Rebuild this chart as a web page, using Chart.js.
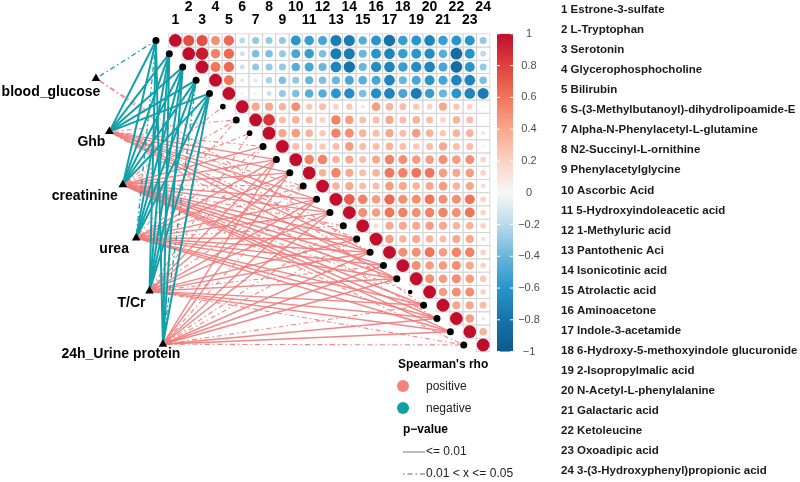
<!DOCTYPE html>
<html>
<head>
<meta charset="utf-8">
<script src="https://cdn.jsdelivr.net/npm/chart.js@4.4.1/dist/chart.umd.min.js"></script>
<style>
  html, body { margin: 0; padding: 0; background: #fff; }
  #chart { display: block; }
</style>
</head>
<body>
<canvas id="chart" width="800" height="482"></canvas>
<script>
// metabolites, in matrix order
const metabolites = [
  'Estrone-3-sulfate', 'L-Tryptophan', 'Serotonin', 'Glycerophosphocholine', 'Bilirubin',
  'S-(3-Methylbutanoyl)-dihydrolipoamide-E', 'Alpha-N-Phenylacetyl-L-glutamine',
  'N2-Succinyl-L-ornithine', 'Phenylacetylglycine', 'Ascorbic Acid',
  '5-Hydroxyindoleacetic acid', '1-Methyluric acid', 'Pantothenic Aci', 'Isonicotinic acid',
  'Atrolactic acid', 'Aminoacetone', 'Indole-3-acetamide',
  '6-Hydroxy-5-methoxyindole glucuronide', '2-Isopropylmalic acid',
  'N-Acetyl-L-phenylalanine', 'Galactaric acid', 'Ketoleucine', 'Oxoadipic acid',
  '3-(3-Hydroxyphenyl)propionic acid'
]

const clinical = ['blood_glucose', 'Ghb', 'creatinine', 'urea', 'T/Cr', '24h_Urine protein']

// spearman rho, upper triangle: row i holds columns i..24
const rho = [
  [1, 0.75, 0.75, 0.5, 0.65, -0.2, -0.3, -0.3, -0.3, -0.6, -0.55, -0.5, -0.75, -0.75, -0.45, -0.6, -0.8, -0.55, -0.6, -0.7, -0.55, -0.6, -0.6, -0.3],
  [1, 0.95, 0.55, 0.65, -0.15, -0.35, -0.35, -0.3, -0.5, -0.55, -0.35, -0.75, -0.75, -0.4, -0.6, -0.7, -0.55, -0.6, -0.65, -0.45, -0.85, -0.6, -0.2],
  [1, 0.6, 0.65, -0.15, -0.3, -0.3, -0.3, -0.45, -0.5, -0.4, -0.7, -0.8, -0.4, -0.65, -0.7, -0.55, -0.65, -0.7, -0.5, -0.85, -0.6, -0.3],
  [1, 0.6, -0.1, -0.1, -0.25, -0.35, -0.3, -0.4, -0.35, -0.4, -0.5, -0.45, -0.5, -0.7, -0.4, -0.5, -0.6, -0.5, -0.7, -0.7, -0.35],
  [1, -0.05, -0.05, -0.15, -0.3, -0.35, -0.45, -0.45, -0.6, -0.65, -0.35, -0.65, -0.7, -0.5, -0.75, -0.55, -0.4, -0.6, -0.7, -0.75],
  [1, 0.4, 0.4, 0.35, 0.5, 0.25, 0.3, 0.2, 0.25, 0.1, 0.45, 0.35, 0.3, 0.25, 0.2, 0.4, 0.25, 0.2, 0.05],
  [1, 0.85, 0.3, 0.35, 0.3, 0.2, 0.55, 0.45, 0.3, 0.3, 0.4, 0.3, 0.35, 0.3, 0.2, 0.35, 0.3, 0.02],
  [1, 0.4, 0.45, 0.35, 0.25, 0.55, 0.5, 0.35, 0.3, 0.4, 0.3, 0.45, 0.35, 0.25, 0.35, 0.35, 0.1],
  [1, 0.3, 0.3, 0.25, 0.3, 0.45, 0.3, 0.3, 0.35, 0.3, 0.25, 0.3, 0.4, 0.3, 0.3, 0.05],
  [1, 0.55, 0.55, 0.35, 0.4, 0.3, 0.4, 0.55, 0.5, 0.45, 0.45, 0.5, 0.45, 0.5, 0.2],
  [1, 0.35, 0.55, 0.4, 0.3, 0.35, 0.6, 0.55, 0.6, 0.6, 0.45, 0.4, 0.45, 0.2],
  [1, 0.35, 0.4, 0.3, 0.3, 0.45, 0.4, 0.35, 0.4, 0.45, 0.35, 0.4, 0.15],
  [1, 0.7, 0.55, 0.45, 0.65, 0.5, 0.5, 0.6, 0.5, 0.5, 0.6, 0.2],
  [1, 0.5, 0.45, 0.6, 0.55, 0.5, 0.55, 0.55, 0.5, 0.6, 0.2],
  [1, 0.15, 0.4, 0.4, 0.4, 0.45, 0.4, 0.35, 0.35, 0.2],
  [1, 0.45, 0.35, 0.4, 0.35, 0.3, 0.4, 0.4, 0.12],
  [1, 0.5, 0.5, 0.6, 0.45, 0.55, 0.55, 0.2],
  [1, 0.5, 0.45, 0.45, 0.5, 0.4, 0.2],
  [1, 0.5, 0.45, 0.5, 0.45, 0.25],
  [1, 0.45, 0.5, 0.5, 0.2],
  [1, 0.4, 0.4, 0.3],
  [1, 0.45, 0.1],
  [1, 0.35],
  [1]
]

// links clinical -> metabolite (one list per clinical variable)
// negative rho, p <= 0.01
const negStrong = [[], [1, 2, 3, 4, 5], [1, 2, 3, 4, 5], [2, 3, 4, 5], [1, 2, 3, 4, 5], [1, 2, 3, 5]]
// negative rho, 0.01 < p <= 0.05
const negWeak = [[1], [], [], [1], [], [4]]
// positive rho, p <= 0.01
const posStrong = [
  [],
  [10, 11, 13, 14, 17, 19],
  [9, 10, 11, 13, 14, 16, 17, 18, 19, 21, 22, 23],
  [10, 11, 13, 14, 16, 17, 18, 19, 21, 22, 23],
  [10, 11, 13, 14, 16, 17, 19, 21, 22, 23],
  [10, 11, 13, 14, 17, 18, 19, 22, 23]
]
// positive rho, 0.01 < p <= 0.05
const posWeak = [
  [17, 21],
  [7, 9, 12, 16, 22],
  [6, 7, 8, 12, 15, 20, 24],
  [7, 9, 12, 15],
  [8, 9, 12, 18, 24],
  [12, 15, 16, 21, 24]
]

const cbarTicks = [1, 0.8, 0.6, 0.4, 0.2, 0, -0.2, -0.4, -0.6, -0.8, -1]

// ---- styles / layout ----
const CELL = 13.6
const X0 = 158.1
const Y0 = 21.4
const PINK = 'rgba(242, 122, 122, 0.9)'
const TEAL = '#12a0a8'
const DASH = [1.5, 3, 5, 3]
const FONT = 'Liberation Sans, Arial, sans-serif'

const stops = [
  [-1, [13, 91, 140]],
  [-0.8, [22, 115, 172]],
  [-0.6, [40, 150, 203]],
  [-0.4, [105, 182, 220]],
  [-0.2, [186, 219, 235]],
  [0, [247, 247, 247]],
  [0.2, [251, 210, 195]],
  [0.4, [248, 168, 142]],
  [0.6, [240, 118, 90]],
  [0.8, [222, 66, 62]],
  [1, [192, 14, 44]]
]

function rhoColor (v) {
  for (let k = 1; k < stops.length; k++) {
    if (v <= stops[k][0]) {
      const [v0, c0] = stops[k - 1]
      const [v1, c1] = stops[k]
      const t = (v - v0) / (v1 - v0)
      const c = c0.map((a, n) => Math.round(a + (c1[n] - a) * t))
      return `rgb(${c.join(',')})`
    }
  }
  return 'rgb(192,14,44)'
}

// network layout (grid units)
const nodePos = i => ({ x: i - 1.45, y: i })
const clinPos = k => ({ x: -4.93 + 1.0 * k, y: 3.87 + 4.015 * k })
const nodeRadius = i => (i === 20 ? 2.3 : (i === 6 || i === 8) ? 2.8 : 3.5)
const labelOffset = [[-45, 14], [-18, 11], [-38, 11], [-22, 11], [-18, 12], [-42, 10]]

const cells = []
rho.forEach((row, i) => row.forEach((v, j) => cells.push({ x: i + j + 1, y: i + 1, v })))

const datasets = []

const linkGroups = [
  [posWeak, PINK, true, 1.1, 13],
  [posStrong, PINK, false, 1.4, 12],
  [negWeak, TEAL, true, 1.3, 11],
  [negStrong, TEAL, false, 2, 10]
]
linkGroups.forEach(([lists, color, dashed, width, order]) => {
  lists.forEach((targets, k) => {
    targets.forEach(t => {
      datasets.push({
        type: 'line',
        data: [clinPos(k), nodePos(t)],
        showLine: true,
        borderColor: color,
        borderWidth: width,
        borderDash: dashed ? DASH : [],
        pointRadius: 0,
        fill: false,
        clip: false,
        order
      })
    })
  })
})

datasets.push({
  data: cells,
  pointRadius: ctx => Math.sqrt(Math.abs(ctx.raw.v)) * 6.4,
  backgroundColor: ctx => rhoColor(ctx.raw.v),
  borderWidth: 0,
  clip: false,
  order: 5
})

datasets.push({
  data: metabolites.map((_, i) => nodePos(i + 1)),
  pointRadius: ctx => nodeRadius(ctx.dataIndex + 1),
  backgroundColor: '#000',
  borderWidth: 0,
  clip: false,
  order: 2
})

datasets.push({
  data: clinical.map((_, k) => clinPos(k)),
  pointStyle: 'triangle',
  pointRadius: 5,
  backgroundColor: '#000',
  borderColor: '#000',
  borderWidth: 0,
  clip: false,
  order: 1
})

const decor = {
  id: 'decor',
  beforeDatasetsDraw (chart) {
    const { ctx, scales: { x, y } } = chart
    ctx.save()
    ctx.strokeStyle = '#d3d3d3'
    ctx.lineWidth = 0.8
    for (let r = 1; r <= 24; r++) {
      for (let c = r; c <= 24; c++) {
        const l = x.getPixelForValue(c - 0.5)
        const rr = x.getPixelForValue(c + 0.5)
        const t = y.getPixelForValue(r - 0.5)
        const b = y.getPixelForValue(r + 0.5)
        ctx.strokeRect(l, t, rr - l, b - t)
      }
    }
    ctx.restore()
  },
  afterDraw (chart) {
    const { ctx, scales: { x, y } } = chart
    ctx.save()

    // column numbers
    ctx.fillStyle = '#000'
    ctx.font = `bold 14px ${FONT}`
    ctx.textAlign = 'center'
    ctx.textBaseline = 'middle'
    metabolites.forEach((_, i) => {
      const n = i + 1
      ctx.fillText(String(n), x.getPixelForValue(n), n % 2 ? 20 : 7.5)
    })

    // clinical labels
    ctx.font = `bold 14px ${FONT}`
    clinical.forEach((name, k) => {
      const p = clinPos(k)
      ctx.fillText(name, x.getPixelForValue(p.x) + labelOffset[k][0], y.getPixelForValue(p.y) + labelOffset[k][1])
    })

    // colour bar
    const top = y.getPixelForValue(0.5)
    const bot = y.getPixelForValue(24.5)
    const bx = 497
    const bw = 16
    const grad = ctx.createLinearGradient(0, bot, 0, top)
    stops.forEach(([v, c]) => grad.addColorStop((v + 1) / 2, `rgb(${c.join(',')})`))
    ctx.fillStyle = grad
    ctx.fillRect(bx, top, bw, bot - top)
    ctx.strokeStyle = '#fff'
    ctx.lineWidth = 1
    ctx.font = `11px ${FONT}`
    cbarTicks.forEach(v => {
      const py = top + (1 - v) / 2 * (bot - top)
      ctx.beginPath()
      ctx.moveTo(bx, py); ctx.lineTo(bx + 3, py)
      ctx.moveTo(bx + bw - 3, py); ctx.lineTo(bx + bw, py)
      ctx.stroke()
      ctx.fillStyle = '#4d4d4d'
      ctx.fillText(String(v).replace('-', '\u2212'), 529, py)
    })

    // metabolite key
    ctx.fillStyle = '#1a1a1a'
    ctx.textAlign = 'left'
    ctx.font = `bold 11.5px ${FONT}`
    metabolites.forEach((name, i) => {
      ctx.fillText(`${i + 1} ${name}`, 561, 10 + 20.04 * i)
    })

    // legend
    ctx.fillStyle = '#000'
    ctx.font = `bold 12px ${FONT}`
    ctx.fillText("Spearman's rho", 398, 365)
    ctx.fillText('p\u2212value', 403, 430)
    ctx.fillStyle = '#f4837d'
    ctx.beginPath(); ctx.arc(403, 386, 6, 0, Math.PI * 2); ctx.fill()
    ctx.fillStyle = TEAL
    ctx.beginPath(); ctx.arc(403, 408, 6, 0, Math.PI * 2); ctx.fill()
    ctx.fillStyle = '#222'
    ctx.font = `12px ${FONT}`
    ctx.fillText('positive', 426, 387)
    ctx.fillText('negative', 426, 409)
    ctx.fillText('<= 0.01', 426, 452)
    ctx.fillText('0.01 < x <= 0.05', 426, 474)
    ctx.strokeStyle = '#9a9a9a'
    ctx.lineWidth = 1.3
    ctx.beginPath(); ctx.moveTo(403, 452); ctx.lineTo(425, 452); ctx.stroke()
    ctx.setLineDash(DASH)
    ctx.beginPath(); ctx.moveTo(403, 474); ctx.lineTo(425, 474); ctx.stroke()
    ctx.restore()
  }
}

new Chart(document.getElementById('chart').getContext('2d'), {
  type: 'scatter',
  data: { datasets },
  options: {
    responsive: false,
    animation: false,
    devicePixelRatio: 1,
    events: [],
    layout: { padding: 0 },
    plugins: { legend: { display: false }, tooltip: { enabled: false } },
    scales: {
      x: { type: 'linear', display: false, min: -X0 / CELL, max: (800 - X0) / CELL },
      y: { type: 'linear', display: false, reverse: true, min: -Y0 / CELL, max: (482 - Y0) / CELL }
    }
  },
  plugins: [decor]
})
</script>
</body>
</html>
